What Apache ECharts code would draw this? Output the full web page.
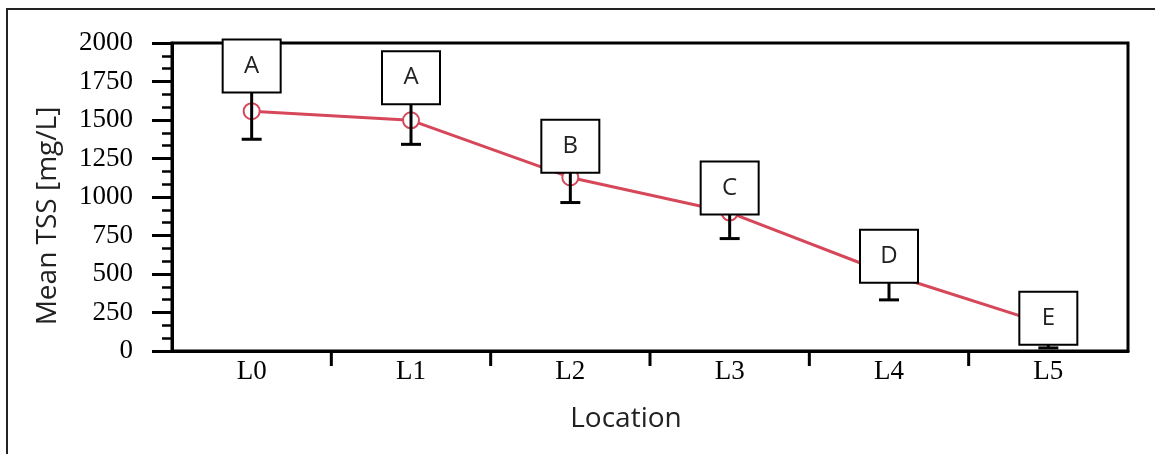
<!DOCTYPE html>
<html>
<head>
<meta charset="utf-8">
<script src="https://cdn.jsdelivr.net/npm/echarts@6/dist/echarts.min.js"></script>
<style>html,body{margin:0;padding:0;background:#fff;}#c{width:1155px;height:454px;}</style>
</head>
<body>
<div id="c"></div>
<script>
// ---- data ----
var categories = ['L0', 'L1', 'L2', 'L3', 'L4', 'L5'];
var meanTSS = [1557, 1498, 1127, 899, 500, 170];
var stdErr = [182, 156, 163, 169, 168, 150];
var groupLetters = ['A', 'A', 'B', 'C', 'D', 'E'];
var letterAnchor = [1850, 1775, 1329, 1059, 616, 212];
var yTicks = [0, 250, 500, 750, 1000, 1250, 1500, 1750, 2000];

var chart = echarts.init(document.getElementById('c'));

var errData = categories.map(function (c, i) { return [i, meanTSS[i] - stdErr[i], meanTSS[i] + stdErr[i]]; });
var boxData = categories.map(function (c, i) { return [i, letterAnchor[i], groupLetters[i]]; });
// inner category boundaries (between neighbouring categories)
var boundaryData = categories.slice(1).map(function (c, i) { return [i, i + 1]; });

var option = {
  animation: false,
  backgroundColor: '#fff',
  graphic: [{
    type: 'rect', shape: { x: 7, y: 9, width: 1170, height: 470 },
    style: { fill: 'none', stroke: '#222', lineWidth: 2 }, z: -10
  }],
  grid: { left: 172, top: 43, right: 27, bottom: 103, show: true, borderColor: '#000', borderWidth: 3, backgroundColor: 'transparent' },
  xAxis: {
    type: 'category', data: categories, boundaryGap: true,
    axisLine: { lineStyle: { color: '#000', width: 3 } },
    axisTick: { show: false },
    axisLabel: { color: '#000', fontFamily: 'Liberation Serif', fontSize: 27, margin: 7 },
    name: 'Location', nameLocation: 'middle', nameGap: 54,
    nameTextStyle: { color: '#222', fontFamily: 'Open Sans', fontSize: 28, padding: [0, 48, 0, 0] },
    splitLine: { show: false }
  },
  yAxis: {
    type: 'value', min: yTicks[0], max: yTicks[yTicks.length - 1], interval: yTicks[1] - yTicks[0],
    axisLine: { show: true, lineStyle: { color: '#000', width: 3 } },
    axisTick: { show: true, inside: false, length: 20, lineStyle: { color: '#000', width: 3 } },
    minorTick: { show: true, splitNumber: 3, length: 10, lineStyle: { color: '#000', width: 2.5 } },
    axisLabel: { color: '#000', fontFamily: 'Liberation Serif', fontSize: 27, margin: 39,
      formatter: function (v) { return String(v); } },
    splitLine: { show: false },
    name: 'Mean TSS [mg/L]', nameLocation: 'middle', nameGap: 110, nameRotate: 90,
    nameTextStyle: { color: '#222', fontFamily: 'Open Sans', fontSize: 28, padding: [0, 38, 0, 0] }
  },
  series: [
    {
      type: 'custom', data: boundaryData, z: 1, clip: false, silent: true,
      renderItem: function (params, api) {
        var a = api.coord([api.value(0), 0]);
        var b = api.coord([api.value(1), 0]);
        var x = (a[0] + b[0]) / 2;
        return { type: 'line', shape: { x1: x, y1: a[1], x2: x, y2: a[1] + 15 }, style: { stroke: '#000', lineWidth: 3 } };
      }
    },
    {
      type: 'line', data: meanTSS, z: 2,
      symbol: 'emptyCircle', symbolSize: 16,
      lineStyle: { color: '#D6475A', width: 3 },
      itemStyle: { color: '#D6475A', borderColor: '#D6475A', borderWidth: 3 }
    },
    {
      type: 'custom', data: errData, z: 3,
      renderItem: function (params, api) {
        var lo = api.coord([api.value(0), api.value(1)]);
        var hi = api.coord([api.value(0), api.value(2)]);
        var w = 10;
        var st = { stroke: '#000', lineWidth: 3 };
        return { type: 'group', children: [
          { type: 'line', shape: { x1: lo[0], y1: lo[1], x2: hi[0], y2: hi[1] }, style: st },
          { type: 'line', shape: { x1: lo[0] - w, y1: lo[1], x2: lo[0] + w, y2: lo[1] }, style: st },
          { type: 'line', shape: { x1: hi[0] - w, y1: hi[1], x2: hi[0] + w, y2: hi[1] }, style: st }
        ]};
      }
    },
    {
      type: 'custom', data: boxData, z: 4,
      renderItem: function (params, api) {
        var p = api.coord([api.value(0), api.value(1)]);
        var bw = 58, bh = 53;
        return { type: 'group', children: [
          { type: 'rect', shape: { x: p[0] - bw / 2, y: p[1] - bh / 2, width: bw, height: bh },
            style: { fill: '#fff', stroke: '#000', lineWidth: 2 } },
          { type: 'text', style: { x: p[0], y: p[1], text: groupLetters[params.dataIndex], align: 'center', verticalAlign: 'middle',
            fill: '#222', fontFamily: 'Open Sans', fontSize: 24 } }
        ]};
      }
    }
  ]
};
chart.setOption(option);
</script>
</body>
</html>
